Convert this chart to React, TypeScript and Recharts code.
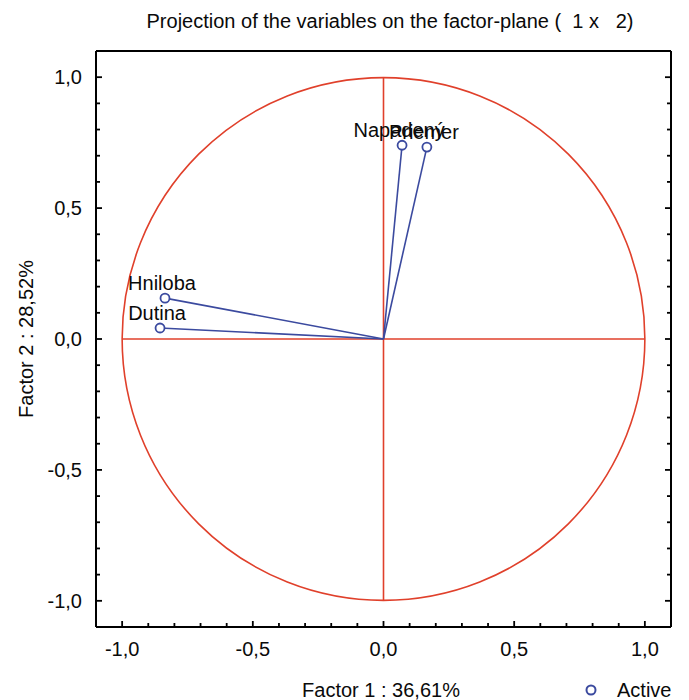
import React from 'react';
import {
  ScatterChart,
  Scatter,
  XAxis,
  YAxis,
  ReferenceLine,
  ReferenceDot,
} from 'recharts';

// ---- data ----
const variables = ['Napadený', 'Priemer', 'Hniloba', 'Dutina'];
const factor1 = [0.071, 0.166, -0.836, -0.855];
const factor2 = [0.74, 0.733, 0.156, 0.042];

const axisTicks = [
  -1, -0.9, -0.8, -0.7, -0.6, -0.5, -0.4, -0.3, -0.2, -0.1, 0,
  0.1, 0.2, 0.3, 0.4, 0.5, 0.6, 0.7, 0.8, 0.9, 1,
];
const majorTicks = [-1, -0.5, 0, 0.5, 1];
const majorLabels = ['-1,0', '-0,5', '0,0', '0,5', '1,0'];

const title = 'Projection of the variables on the factor-plane (  1 x   2)';
const xTitle = 'Factor 1 : 36,61%';
const yTitle = 'Factor 2 : 28,52%';
const legendLabel = 'Active';

// ---- styling ----
const W = 689;
const H = 700;
const PLOT_LEFT = 96;
const PLOT_RIGHT = 671;
const PLOT_TOP = 51;
const PLOT_BOTTOM = 627;
const DOMAIN: [number, number] = [-1.1, 1.1];
const RADIUS_PX = (PLOT_RIGHT - PLOT_LEFT) / (DOMAIN[1] - DOMAIN[0]);
const RED = '#e0402b';
const BLUE = '#3b4a9f';
const FONT = '"Liberation Sans", Arial, sans-serif';
const FS = 20;
const TXT = '#0a0a0a';

const data = variables.map((name, i) => ({ name, x: factor1[i], y: factor2[i] }));

const majorIndex = (v: number) => majorTicks.findIndex((m) => Math.abs(m - v) < 1e-6);

const BottomTick = (p: any) => {
  const v = p.payload.value;
  const mi = majorIndex(v);
  return (
    <g>
      <line x1={p.x} x2={p.x} y1={p.y} y2={p.y - (mi >= 0 ? 6 : 4)} stroke="#000" strokeWidth={1.8} />
      {mi >= 0 && (
        <text x={p.x} y={p.y + 29} textAnchor="middle" fontFamily={FONT} fontSize={FS} fill={TXT}>
          {majorLabels[mi]}
        </text>
      )}
    </g>
  );
};

const TopTick = (p: any) => {
  const v = p.payload.value;
  const mi = majorIndex(v);
  return (
    <line x1={p.x} x2={p.x} y1={p.y} y2={p.y + (mi >= 0 ? 6 : 4)} stroke="#000" strokeWidth={1.8} />
  );
};

const LeftTick = (p: any) => {
  const v = p.payload.value;
  const mi = majorIndex(v);
  return (
    <g>
      <line x1={p.x} x2={p.x + (mi >= 0 ? 6 : 4)} y1={p.y} y2={p.y} stroke="#000" strokeWidth={1.8} />
      {mi >= 0 && (
        <text x={p.x - 14} y={p.y + 7} textAnchor="end" fontFamily={FONT} fontSize={FS} fill={TXT}>
          {majorLabels[mi]}
        </text>
      )}
    </g>
  );
};

const RightTick = (p: any) => {
  const v = p.payload.value;
  const mi = majorIndex(v);
  return (
    <line x1={p.x} x2={p.x - (mi >= 0 ? 6 : 4)} y1={p.y} y2={p.y} stroke="#000" strokeWidth={1.8} />
  );
};

const PointShape = (p: any) => {
  const cx = p.cx;
  const cy = p.cy;
  return (
    <g>
      <circle cx={cx} cy={cy} r={4.5} fill="#fff" stroke={BLUE} strokeWidth={1.8} />
      <text x={cx - 3} y={cy - 8} textAnchor="middle" fontFamily={FONT} fontSize={FS} fill={TXT}>
        {p.payload.name}
      </text>
    </g>
  );
};

const UnitCircle = (p: any) => (
  <circle cx={p.cx} cy={p.cy} r={RADIUS_PX} fill="none" stroke={RED} strokeWidth={1.6} />
);

export default function App() {
  const leftAxisW = 60;
  const rightAxisW = 10;
  const topAxisH = 10;
  const bottomAxisH = 40;
  return (
    <div style={{ position: 'absolute', left: 0, top: 0, width: W, height: H, background: '#fff' }}>
      <ScatterChart
        width={W}
        height={H}
        margin={{
          top: PLOT_TOP - topAxisH,
          left: PLOT_LEFT - leftAxisW,
          right: W - PLOT_RIGHT - rightAxisW,
          bottom: H - PLOT_BOTTOM - bottomAxisH,
        }}
      >
        <XAxis
          type="number"
          dataKey="x"
          domain={DOMAIN}
          ticks={axisTicks}
          interval={0}
          allowDataOverflow
          height={bottomAxisH}
          tickSize={0}
          tickMargin={0}
          tickLine={false}
          axisLine={{ stroke: '#000', strokeWidth: 2 }}
          tick={BottomTick}
        />
        <XAxis
          xAxisId="top"
          orientation="top"
          type="number"
          domain={DOMAIN}
          ticks={axisTicks}
          interval={0}
          allowDataOverflow
          height={topAxisH}
          tickSize={0}
          tickMargin={0}
          tickLine={false}
          axisLine={{ stroke: '#000', strokeWidth: 2 }}
          tick={TopTick}
        />
        <YAxis
          type="number"
          dataKey="y"
          domain={DOMAIN}
          ticks={axisTicks}
          interval={0}
          allowDataOverflow
          width={leftAxisW}
          tickSize={0}
          tickMargin={0}
          tickLine={false}
          axisLine={{ stroke: '#000', strokeWidth: 2 }}
          tick={LeftTick}
        />
        <YAxis
          yAxisId="right"
          orientation="right"
          type="number"
          domain={DOMAIN}
          ticks={axisTicks}
          interval={0}
          allowDataOverflow
          width={rightAxisW}
          tickSize={0}
          tickMargin={0}
          tickLine={false}
          axisLine={{ stroke: '#000', strokeWidth: 2 }}
          tick={RightTick}
        />
        <ReferenceDot x={0} y={0} r={RADIUS_PX} shape={UnitCircle} />
        <ReferenceLine segment={[{ x: -1, y: 0 }, { x: 1, y: 0 }]} stroke={RED} strokeWidth={1.6} />
        <ReferenceLine segment={[{ x: 0, y: -1 }, { x: 0, y: 1 }]} stroke={RED} strokeWidth={1.6} />
        {data.map((d) => (
          <ReferenceLine
            key={d.name}
            segment={[{ x: 0, y: 0 }, { x: d.x, y: d.y }]}
            stroke={BLUE}
            strokeWidth={1.6}
          />
        ))}
        <Scatter data={data} shape={PointShape} isAnimationActive={false} />
      </ScatterChart>
      <svg
        width={W}
        height={H}
        style={{ position: 'absolute', left: 0, top: 0, pointerEvents: 'none' }}
      >
        <text
          x={390}
          y={28}
          textAnchor="middle"
          fontFamily={FONT}
          fontSize={FS}
          fill={TXT}
          style={{ whiteSpace: 'pre' }}
          xmlSpace="preserve"
        >
          {title}
        </text>
        <text x={381} y={697} textAnchor="middle" fontFamily={FONT} fontSize={FS} fill={TXT}>
          {xTitle}
        </text>
        <text
          x={0}
          y={0}
          transform={`translate(32.5, 339) rotate(-90)`}
          textAnchor="middle"
          fontFamily={FONT}
          fontSize={FS}
          fill={TXT}
        >
          {yTitle}
        </text>
        <circle cx={591} cy={690} r={4.5} fill="#fff" stroke={BLUE} strokeWidth={2} />
        <text x={617} y={697} textAnchor="start" fontFamily={FONT} fontSize={FS} fill={TXT}>
          {legendLabel}
        </text>
      </svg>
    </div>
  );
}
